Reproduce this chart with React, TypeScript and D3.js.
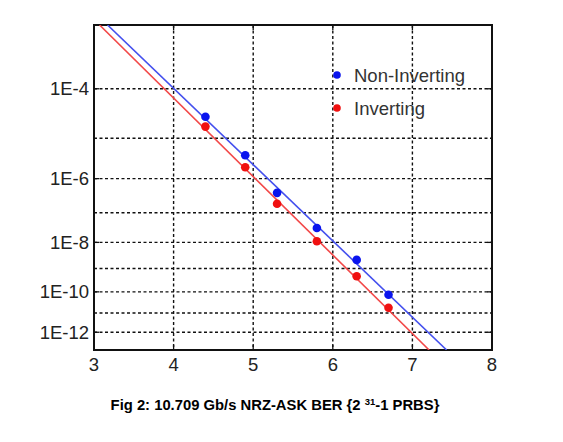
import { useEffect, useRef } from "react"
import * as d3 from "d3"

// Measured points (x axis value vs. BER)
const xValues = [4.4, 4.9, 5.3, 5.8, 6.3, 6.7]
const nonInvertingBER = [2.9e-5, 4.0e-6, 4.0e-7, 3.2e-8, 2.2e-9, 7.4e-11]
const invertingBER = [1.8e-5, 2.0e-6, 1.9e-7, 1.1e-8, 4.8e-10, 1.8e-11]

// Fitted straight lines (end points)
const nonInvertingFitX = [3.17, 7.43]
const invertingFitX = [3.07, 7.21]
const fitBER = [1e-3, 1e-13]

const xTicks = [3, 4, 5, 6, 7, 8]
const yGridExp = [4, 5, 6, 7, 8, 9, 10, 11, 12]
const yLabelExp = [4, 6, 8, 10, 12]
const legendLabels = ["Non-Inverting", "Inverting"]
const title = "Fig 2: 10.709 Gb/s NRZ-ASK BER {2 "
const titleSup = "31"
const titleEnd = "-1 PRBS}"

export default function App() {
  const svgRef = useRef<SVGSVGElement | null>(null)

  useEffect(() => {
    if (!svgRef.current) return
    d3.select(svgRef.current).selectAll("*").remove()

    const left = 94
    const right = 492
    const top = 25
    const bottom = 350

    const svg = d3.select(svgRef.current)

    const x = d3.scaleLinear().domain([3, 8]).range([left, right])
    // BER axis: log of -log10(BER)
    const q = d3.scaleLog().domain([3, 13]).range([top, bottom])
    const y = (ber: number) => q(-Math.log10(ber))

    const font = "Arial, 'Liberation Sans', sans-serif"

    // grid
    const grid = svg.append("g").attr("stroke", "#111").attr("stroke-width", 1.4).attr("stroke-dasharray", "3,2.5")
    grid
      .selectAll(".vg")
      .data(xTicks.slice(1, -1))
      .enter()
      .append("line")
      .attr("x1", (d) => x(d))
      .attr("x2", (d) => x(d))
      .attr("y1", top)
      .attr("y2", bottom)
    grid
      .selectAll(".hg")
      .data(yGridExp)
      .enter()
      .append("line")
      .attr("x1", left)
      .attr("x2", right)
      .attr("y1", (d) => q(d))
      .attr("y2", (d) => q(d))

    // inward ticks
    const ticks = svg.append("g").attr("stroke", "#111").attr("stroke-width", 1.3)
    xTicks.slice(1, -1).forEach((t) => {
      ticks.append("line").attr("x1", x(t)).attr("x2", x(t)).attr("y1", bottom).attr("y2", bottom - 5)
      ticks.append("line").attr("x1", x(t)).attr("x2", x(t)).attr("y1", top).attr("y2", top + 5)
    })
    yLabelExp.forEach((e) => {
      ticks.append("line").attr("x1", left).attr("x2", left + 5).attr("y1", q(e)).attr("y2", q(e))
      ticks.append("line").attr("x1", right).attr("x2", right - 5).attr("y1", q(e)).attr("y2", q(e))
    })

    // frame
    svg
      .append("rect")
      .attr("x", left)
      .attr("y", top)
      .attr("width", right - left)
      .attr("height", bottom - top)
      .attr("fill", "none")
      .attr("stroke", "#111")
      .attr("stroke-width", 2)

    // tick labels
    svg
      .selectAll(".xl")
      .data(xTicks)
      .enter()
      .append("text")
      .attr("x", (d) => x(d))
      .attr("y", bottom + 21)
      .attr("text-anchor", "middle")
      .attr("font-family", font)
      .attr("font-size", 18.5)
      .attr("fill", "#222")
      .text((d) => d)

    svg
      .selectAll(".yl")
      .data(yLabelExp)
      .enter()
      .append("text")
      .attr("x", left - 5)
      .attr("y", (d) => q(d) + 6.5)
      .attr("text-anchor", "end")
      .attr("font-family", font)
      .attr("font-size", 18.5)
      .attr("fill", "#222")
      .text((d) => `1E-${d}`)

    // clipped series
    svg
      .append("clipPath")
      .attr("id", "plot-clip")
      .append("rect")
      .attr("x", left)
      .attr("y", top)
      .attr("width", right - left)
      .attr("height", bottom - top)

    const line = d3
      .line<[number, number]>()
      .x((d) => x(d[0]))
      .y((d) => y(d[1]))

    const series = [
      { pts: nonInvertingBER, fitX: nonInvertingFitX, line: "#4450ee", dot: "#0a14ee" },
      { pts: invertingBER, fitX: invertingFitX, line: "#f24848", dot: "#f01010" },
    ]

    const plot = svg.append("g").attr("clip-path", "url(#plot-clip)")
    series.forEach((s) => {
      plot
        .append("path")
        .attr("d", line(s.fitX.map((v, i) => [v, fitBER[i]] as [number, number])))
        .attr("fill", "none")
        .attr("stroke", s.line)
        .attr("stroke-width", 1.6)
      plot
        .selectAll(null)
        .data(s.pts)
        .enter()
        .append("circle")
        .attr("cx", (d, i) => x(xValues[i]))
        .attr("cy", (d) => y(d))
        .attr("r", 4.3)
        .attr("fill", s.dot)
    })

    // legend
    legendLabels.forEach((label, i) => {
      const ly = 75 + i * 33
      svg
        .append("circle")
        .attr("cx", 337)
        .attr("cy", ly)
        .attr("r", 3.8)
        .attr("fill", series[i].dot)
      svg
        .append("text")
        .attr("x", 354)
        .attr("y", ly + 6.5)
        .attr("font-family", font)
        .attr("font-size", 18.5)
        .attr("fill", "#333")
        .text(label)
    })

    // caption
    const cap = svg
      .append("text")
      .attr("x", 275)
      .attr("y", 410)
      .attr("text-anchor", "middle")
      .attr("font-family", font)
      .attr("font-size", 14.8)
      .attr("font-weight", "bold")
      .attr("fill", "#000")
    cap.append("tspan").text(title)
    cap.append("tspan").attr("font-size", 9.5).attr("dy", -5).text(titleSup)
    cap.append("tspan").attr("dy", 5).text(titleEnd)
  }, [])

  return (
    <svg
      ref={svgRef}
      width={563}
      height={442}
      style={{ position: "absolute", left: 0, top: 0, background: "#fff" }}
    ></svg>
  )
}
